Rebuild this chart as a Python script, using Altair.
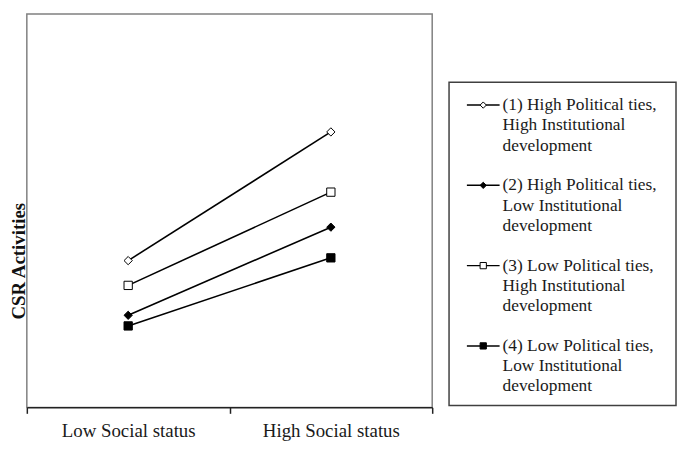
import altair as alt
import pandas as pd

# ---- data ----
categories = ["Low Social status", "High Social status"]
series_names = [
    "(1) High Political ties, High Institutional development",
    "(2) High Political ties, Low Institutional development",
    "(3) Low Political ties, High Institutional development",
    "(4) Low Political ties, Low Institutional development",
]
legend_lines = [
    ["(1) High Political ties,", "High Institutional", "development"],
    ["(2) High Political ties,", "Low Institutional", "development"],
    ["(3) Low Political ties,", "High Institutional", "development"],
    ["(4) Low Political ties,", "Low Institutional", "development"],
]
values_s1 = [37.3, 70.0]
values_s2 = [23.4, 45.8]
values_s3 = [31.0, 54.7]
values_s4 = [20.7, 38.0]
shapes = ["diamond", "diamond", "square", "square"]
fills = ["white", "black", "white", "black"]

FONT = "Liberation Serif"
all_values = [values_s1, values_s2, values_s3, values_s4]

rows = []
for s_i, (name, vals) in enumerate(zip(series_names, all_values)):
    for c_i, v in enumerate(vals):
        rows.append({"series": name, "cat_idx": c_i, "value": v})
df = pd.DataFrame(rows)

label_expr = (
    f"datum.value == 0.5 ? '{categories[0]}' : "
    f"datum.value == 1.5 ? '{categories[1]}' : ''"
)

base = alt.Chart(df).transform_calculate(xpos="datum.cat_idx + 0.5")

x_enc = alt.X(
    "xpos:Q",
    scale=alt.Scale(domain=[0, len(categories)], nice=False, zero=False),
    axis=alt.Axis(
        values=[0, 0.5, 1, 1.5, 2],
        labelExpr=label_expr,
        title=None,
        grid=False,
        domainColor="#222222",
        domainWidth=1.5,
        tickColor="#222222",
        tickWidth=1.5,
        tickSize=6,
        tickOpacity={"condition": {"test": "datum.value % 1 != 0", "value": 0}, "value": 1},
        labelFont=FONT,
        labelFontSize=19,
        labelColor="#1a1a1a",
        labelPadding=8,
        labelAngle=0,
    ),
)
y_enc = alt.Y(
    "value:Q",
    scale=alt.Scale(domain=[0, 100], nice=False),
    axis=alt.Axis(
        title="CSR Activities",
        titleFont=FONT,
        titleFontSize=19,
        titleFontWeight="bold",
        titleColor="#111111",
        titleX=-8.5,
        titleY=249,
        titleAngle=270,
        titleAlign="center",
        titleBaseline="middle",
        domain=False,
        ticks=False,
        labels=False,
        grid=False,
    ),
)

lines = base.mark_line(color="black", strokeWidth=1.6).encode(
    x=x_enc, y=y_enc, detail="series:N"
)
points = base.mark_point(filled=True, stroke="black", strokeWidth=1, opacity=1, size=70).encode(
    x=x_enc,
    y=y_enc,
    shape=alt.Shape("series:N", scale=alt.Scale(domain=series_names, range=shapes), legend=None),
    fill=alt.Fill("series:N", scale=alt.Scale(domain=series_names, range=fills), legend=None),
)

main = alt.layer(lines, points).properties(
    width=409, height=397,
    view=alt.ViewBackground(stroke="#808080", strokeWidth=1.5),
)

# ---- legend panel ----
leg_df = pd.DataFrame({
    "series": series_names,
    "idx": list(range(len(series_names))),
    "text": ["\n".join(l) for l in legend_lines],
})
leg_base = alt.Chart(leg_df)
ly = alt.Y("idx:Q", scale=alt.Scale(domain=[-0.284, 3.741], reverse=True, nice=False, zero=False), axis=None)

leg_rule = leg_base.mark_rule(color="black", strokeWidth=1.5).encode(
    x=alt.value(18), x2=alt.value(51), y=ly
)
leg_pts = leg_base.mark_point(filled=True, stroke="black", strokeWidth=1, opacity=1, size=40).encode(
    x=alt.value(34.5),
    y=ly,
    shape=alt.Shape("series:N", scale=alt.Scale(domain=series_names, range=shapes), legend=None),
    fill=alt.Fill("series:N", scale=alt.Scale(domain=series_names, range=fills), legend=None),
)
leg_text = leg_base.mark_text(
    align="left", baseline="middle", lineBreak="\n", lineHeight=20.5,
    font=FONT, fontSize=17.5, color="#1a1a1a",
).encode(x=alt.value(54), y=ly, text="text:N")

legend = alt.layer(leg_rule, leg_pts, leg_text).properties(
    width=229, height=326,
    view=alt.ViewBackground(stroke="#404040", strokeWidth=1.5),
)

spacer = alt.Chart(pd.DataFrame({"a": [0]})).mark_point(opacity=0).properties(
    width=229, height=67,
    view=alt.ViewBackground(stroke="transparent"),
)

right = alt.vconcat(spacer, legend, spacing=0)

chart = alt.hconcat(main, right, spacing=14).properties(
    padding={"left": 0, "top": 3, "right": 0, "bottom": 0},
    background="white",
)

chart.save("out.html", embed_options={"renderer": "svg", "actions": False})
